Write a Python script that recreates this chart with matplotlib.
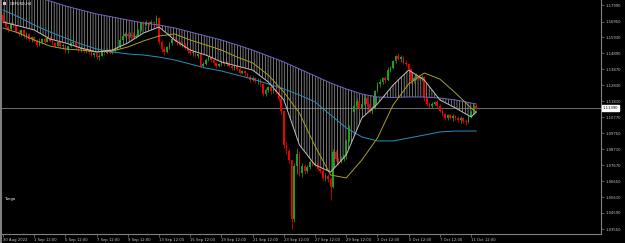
import numpy as np
import matplotlib
matplotlib.use("Agg")
import matplotlib.pyplot as plt
from matplotlib.patches import Rectangle

plt.rcParams['font.family'] = ['DejaVu Sans']
plt.rcParams['hatch.color'] = '#b0b0b0'
plt.rcParams['hatch.linewidth'] = 0.45

# GBPUSD H4, 30 Aug 2022 12:00 .. 11 Oct 2022 20:00 (one row = 12 bars = 2 days)
first_open = 1.1740
close = [
    1.1700, 1.1660, 1.1645, 1.1680, 1.1670, 1.1630, 1.1615, 1.1640, 1.1600, 1.1615, 1.1580, 1.1595,
    1.1570, 1.1545, 1.1560, 1.1580, 1.1565, 1.1590, 1.1570, 1.1555, 1.1540, 1.1560, 1.1535, 1.1545,
    1.1510, 1.1535, 1.1555, 1.1560, 1.1530, 1.1515, 1.1525, 1.1505, 1.1515, 1.1500, 1.1480, 1.1490,
    1.1465, 1.1475, 1.1500, 1.1490, 1.1510, 1.1495, 1.1505, 1.1520, 1.1530, 1.1575, 1.1600, 1.1615,
    1.1600, 1.1610, 1.1595, 1.1605, 1.1640, 1.1685, 1.1675, 1.1690, 1.1680, 1.1695, 1.1685, 1.1720,
    1.1560, 1.1520, 1.1500, 1.1530, 1.1555, 1.1585, 1.1570, 1.1560, 1.1545, 1.1550, 1.1525, 1.1505,
    1.1490, 1.1500, 1.1475, 1.1485, 1.1410, 1.1420, 1.1450, 1.1465, 1.1445, 1.1425, 1.1410, 1.1420,
    1.1435, 1.1420, 1.1430, 1.1410, 1.1395, 1.1405, 1.1390, 1.1365, 1.1375, 1.1360, 1.1340, 1.1320,
    1.1330, 1.1310, 1.1320, 1.1290, 1.1225, 1.1250, 1.1270, 1.1245, 1.1260, 1.1240, 1.1195, 1.1115,
    1.0900, 1.0860, 1.0800, 1.0420, 1.0760, 1.0840, 1.0720, 1.0765, 1.0730, 1.0755, 1.0785, 1.0770,
    1.0780, 1.0740, 1.0730, 1.0685, 1.0700, 1.0680, 1.0625, 1.0850, 1.0805, 1.0790, 1.0810, 1.0830,
    1.0925, 1.1010, 1.1110, 1.1150, 1.1180, 1.1140, 1.1165, 1.1200, 1.1165, 1.1120, 1.1140, 1.1245,
    1.1290, 1.1305, 1.1330, 1.1315, 1.1385, 1.1395, 1.1440, 1.1470, 1.1455, 1.1465, 1.1430, 1.1420,
    1.1390, 1.1310, 1.1330, 1.1345, 1.1325, 1.1340, 1.1200, 1.1165, 1.1150, 1.1165, 1.1175, 1.1150,
    1.1120, 1.1095, 1.1070, 1.1090, 1.1075, 1.1085, 1.1070, 1.1060, 1.1075, 1.1055, 1.1045, 1.1080,
    1.1110, 1.1150, 1.1139,
]
high = [
    1.1755, 1.1705, 1.1670, 1.1690, 1.1695, 1.1675, 1.1640, 1.1650, 1.1645, 1.1625, 1.1620, 1.1605,
    1.1600, 1.1580, 1.1590, 1.1590, 1.1595, 1.1600, 1.1605, 1.1580, 1.1565, 1.1570, 1.1565, 1.1555,
    1.1550, 1.1540, 1.1565, 1.1595, 1.1570, 1.1540, 1.1535, 1.1530, 1.1525, 1.1520, 1.1510, 1.1500,
    1.1495, 1.1490, 1.1510, 1.1515, 1.1525, 1.1520, 1.1515, 1.1530, 1.1540, 1.1585, 1.1612, 1.1625,
    1.1630, 1.1625, 1.1625, 1.1615, 1.1650, 1.1695, 1.1700, 1.1705, 1.1700, 1.1705, 1.1700, 1.1738,
    1.1725, 1.1575, 1.1540, 1.1540, 1.1565, 1.1595, 1.1600, 1.1580, 1.1570, 1.1560, 1.1555, 1.1530,
    1.1515, 1.1510, 1.1505, 1.1495, 1.1490, 1.1435, 1.1460, 1.1475, 1.1470, 1.1455, 1.1435, 1.1430,
    1.1445, 1.1440, 1.1440, 1.1435, 1.1420, 1.1415, 1.1410, 1.1400, 1.1385, 1.1380, 1.1365, 1.1350,
    1.1345, 1.1340, 1.1330, 1.1330, 1.1300, 1.1265, 1.1280, 1.1290, 1.1275, 1.1265, 1.1250, 1.1205,
    1.1125, 1.0915, 1.0870, 1.0805, 1.0780, 1.0880, 1.0860, 1.0780, 1.0775, 1.0770, 1.0800, 1.0805,
    1.0800, 1.0785, 1.0755, 1.0740, 1.0715, 1.0710, 1.0690, 1.0870, 1.0865, 1.0820, 1.0825, 1.0840,
    1.0935, 1.1025, 1.1125, 1.1170, 1.1200, 1.1190, 1.1185, 1.1225, 1.1210, 1.1175, 1.1150, 1.1255,
    1.1305, 1.1325, 1.1340, 1.1345, 1.1400, 1.1410, 1.1450, 1.1480, 1.1495, 1.1480, 1.1470, 1.1450,
    1.1430, 1.1395, 1.1345, 1.1360, 1.1355, 1.1350, 1.1345, 1.1210, 1.1175, 1.1175, 1.1185, 1.1190,
    1.1165, 1.1130, 1.1105, 1.1100, 1.1100, 1.1095, 1.1090, 1.1085, 1.1085, 1.1080, 1.1065, 1.1090,
    1.1125, 1.1165, 1.1160,
]
low = [
    1.1690, 1.1650, 1.1630, 1.1640, 1.1660, 1.1620, 1.1605, 1.1605, 1.1590, 1.1585, 1.1570, 1.1565,
    1.1560, 1.1530, 1.1540, 1.1550, 1.1555, 1.1560, 1.1560, 1.1545, 1.1530, 1.1535, 1.1525, 1.1515,
    1.1495, 1.1495, 1.1530, 1.1545, 1.1520, 1.1500, 1.1500, 1.1495, 1.1495, 1.1485, 1.1470, 1.1465,
    1.1455, 1.1445, 1.1470, 1.1480, 1.1485, 1.1488, 1.1485, 1.1500, 1.1510, 1.1525, 1.1570, 1.1595,
    1.1590, 1.1595, 1.1585, 1.1590, 1.1600, 1.1635, 1.1665, 1.1670, 1.1665, 1.1672, 1.1675, 1.1680,
    1.1550, 1.1500, 1.1480, 1.1490, 1.1520, 1.1545, 1.1560, 1.1545, 1.1535, 1.1530, 1.1515, 1.1495,
    1.1480, 1.1475, 1.1465, 1.1460, 1.1400, 1.1395, 1.1415, 1.1440, 1.1435, 1.1415, 1.1395, 1.1400,
    1.1405, 1.1410, 1.1410, 1.1400, 1.1385, 1.1385, 1.1380, 1.1355, 1.1355, 1.1345, 1.1330, 1.1305,
    1.1310, 1.1300, 1.1295, 1.1280, 1.1215, 1.1215, 1.1240, 1.1230, 1.1235, 1.1225, 1.1180, 1.1100,
    1.0880, 1.0840, 1.0780, 1.0355, 1.0400, 1.0710, 1.0700, 1.0690, 1.0710, 1.0715, 1.0745, 1.0760,
    1.0760, 1.0730, 1.0715, 1.0670, 1.0665, 1.0660, 1.0540, 1.0620, 1.0795, 1.0770, 1.0780, 1.0795,
    1.0810, 1.0915, 1.1000, 1.1095, 1.1135, 1.1120, 1.1130, 1.1155, 1.1150, 1.1105, 1.1095, 1.1130,
    1.1240, 1.1270, 1.1295, 1.1300, 1.1310, 1.1370, 1.1390, 1.1430, 1.1445, 1.1435, 1.1420, 1.1410,
    1.1380, 1.1290, 1.1300, 1.1320, 1.1315, 1.1310, 1.1185, 1.1150, 1.1135, 1.1140, 1.1155, 1.1140,
    1.1110, 1.1085, 1.1060, 1.1062, 1.1065, 1.1055, 1.1060, 1.1045, 1.1040, 1.1040, 1.1025, 1.1040,
    1.1070, 1.1100, 1.1130,
]

# indicator lines, read every 6 bars
ma_bars = [0, 6, 12, 18, 24, 30, 36, 42, 48, 54, 60, 66, 72, 78, 84, 90,
           96, 102, 108, 114, 120, 126, 132, 138, 144, 150, 156, 162, 168, 174, 180, 182]
ma_purple = [1.1925, 1.1893, 1.1860, 1.1828, 1.1796, 1.1770, 1.1744, 1.1725,
             1.1705, 1.1686, 1.1673, 1.1654, 1.1628, 1.1602, 1.1576, 1.1544,
             1.1511, 1.1473, 1.1434, 1.1389, 1.1344, 1.1298, 1.1260, 1.1227,
             1.1208, 1.1205, 1.1208, 1.1208, 1.1201, 1.1189, 1.1169, 1.1163]
ma_teal = [1.1770, 1.1725, 1.1673, 1.1628, 1.1589, 1.1550, 1.1518, 1.1499,
           1.1486, 1.1479, 1.1466, 1.1447, 1.1421, 1.1395, 1.1376, 1.1350,
           1.1324, 1.1292, 1.1260, 1.1221, 1.1176, 1.1092, 1.1008, 1.0950,
           1.0924, 1.0924, 1.0943, 1.0962, 1.0982, 1.0988, 1.0988, 1.0988]
ma_grey = [1.1692, 1.1667, 1.1641, 1.1583, 1.1557, 1.1524, 1.1499, 1.1511,
           1.1557, 1.1621, 1.1660, 1.1576, 1.1511, 1.1479, 1.1434, 1.1408,
           1.1382, 1.1305, 1.1189, 1.0898, 1.0769, 1.0723, 1.0833, 1.1072,
           1.1163, 1.1285, 1.1382, 1.1318, 1.1189, 1.1137, 1.1079, 1.1111]
ma_yellow = [1.1654, 1.1621, 1.1576, 1.1537, 1.1518, 1.1511, 1.1499, 1.1505,
             1.1531, 1.1570, 1.1602, 1.1615, 1.1576, 1.1544, 1.1511, 1.1466,
             1.1428, 1.1350, 1.1240, 1.1104, 1.0891, 1.0704, 1.0685, 1.0801,
             1.0943, 1.1156, 1.1292, 1.1363, 1.1324, 1.1234, 1.1137, 1.1111]

price_ticks = [1.17990, 1.16950, 1.15930, 1.14890, 1.13870, 1.12830, 1.11810, 1.10770,
               1.09750, 1.08710, 1.07670, 1.06650, 1.05610, 1.04590, 1.03550]
date_bars = [0, 12, 24, 36, 48, 60, 72, 84, 96, 108, 120, 132, 144, 156, 168, 180]
date_labels = ["30 Aug 2022", "1 Sep 12:00", "5 Sep 12:00", "7 Sep 12:00", "9 Sep 12:00",
               "13 Sep 12:00", "15 Sep 12:00", "19 Sep 12:00", "21 Sep 12:00", "23 Sep 12:00",
               "27 Sep 12:00", "29 Sep 12:00", "3 Oct 12:00", "5 Oct 12:00", "7 Oct 12:00",
               "11 Oct 12:00"]
last_price = 1.11390

GREEN = '#1f9e1f'
RED = '#f00000'
GRID = '#808080'
TXT = '#c8c8c8'
FS = 2.7

W, H = 625, 243
fig = plt.figure(figsize=(W / 100, H / 100), dpi=100, facecolor='black')
ax = fig.add_axes([2 / W, 9 / H, 599 / W, 234 / H])
ax.set_facecolor('black')

# candles
xb = np.arange(len(close))
c = np.array(close)
o = np.array([first_open] + close[:-1])
cols = np.where(c >= o, GREEN, RED)
ax.vlines(xb, low, high, colors=cols, linewidth=0.55, zorder=3)
ax.bar(xb, np.maximum(np.abs(c - o), 0.00012), bottom=np.minimum(o, c), width=0.62,
       color=cols, linewidth=0, zorder=4)

# cloud hatching + lines
ax.fill_between(ma_bars, ma_grey, ma_purple, facecolor='none', edgecolor='#b0b0b0',
                hatch='||||||', linewidth=0, zorder=2)
ax.plot(ma_bars, ma_purple, color='#6f68c8', lw=0.7, zorder=5)
ax.plot(ma_bars, ma_teal, color='#2a8fbf', lw=0.7, zorder=5)
ax.plot(ma_bars, ma_yellow, color='#a8a020', lw=0.7, zorder=5)
ax.plot(ma_bars, ma_grey, color='#c0c0c0', lw=0.7, zorder=5)

ax.axhline(last_price, color=GRID, lw=0.6, zorder=1)

ax.set_xlim(-0.4, -0.4 + 599 / 2.6)
ax.set_ylim(1.18345 - 234 * 0.000646, 1.18345)

ax.yaxis.tick_right()
ax.set_yticks(price_ticks)
ax.set_yticklabels(['%.5f' % v for v in price_ticks])
ax.set_xticks(date_bars)
ax.set_xticklabels(date_labels)
plt.setp(ax.get_xticklabels(), ha='left')
ax.tick_params(axis='both', color=GRID, labelcolor=TXT, labelsize=FS, length=2, width=0.5, pad=1.2)

for s in ['top', 'left']:
    ax.spines[s].set_visible(False)
for s in ['right', 'bottom']:
    ax.spines[s].set_color(GRID)
    ax.spines[s].set_linewidth(0.8)

# current price tag
ax.text(1.003, last_price, '%.5f' % last_price, transform=ax.get_yaxis_transform(),
        fontsize=FS, color='black', va='center', ha='left', clip_on=False,
        bbox=dict(boxstyle='square,pad=0.3', facecolor='white', edgecolor='white'))

ax.text(8 / 599, 1 - 2 / 234, 'GBPUSD,H4', transform=ax.transAxes, fontsize=FS,
        color='white', va='top', ha='left')
ax.add_patch(Rectangle((1 / 599, 1 - 5 / 234), 3 / 599, 2.5 / 234, transform=ax.transAxes,
                       facecolor='#d0d0d0', edgecolor='none'))
ax.text(3 / 599, 1 - 199 / 234, 'Tango', transform=ax.transAxes, fontsize=FS,
        color='white', va='center', ha='left')

fig.patches.append(Rectangle((0, 0), 1.8 / W, 1, transform=fig.transFigure,
                             facecolor=GRID, edgecolor='none'))

fig.savefig('out.png', dpi=100, facecolor='black')
